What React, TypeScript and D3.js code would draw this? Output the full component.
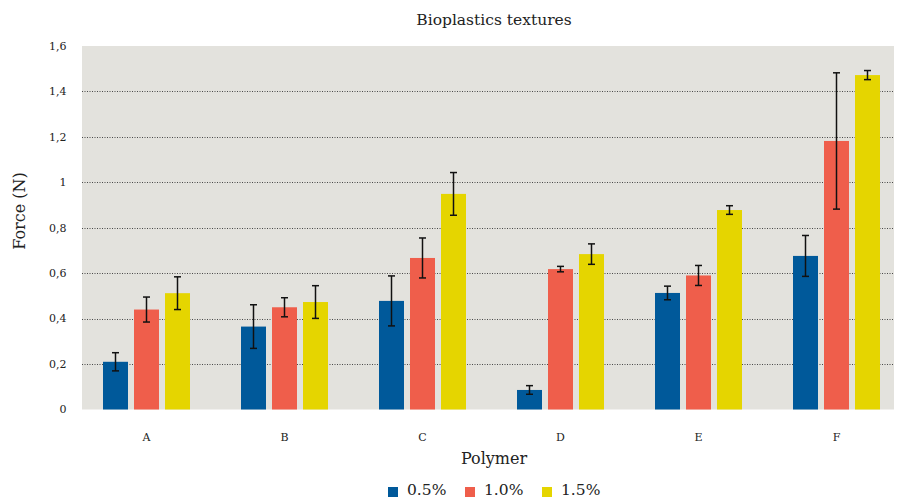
import React, { useEffect, useRef } from "react";
import * as d3 from "d3";

const categories = ["A", "B", "C", "D", "E", "F"];
const seriesNames = ["0.5%", "1.0%", "1.5%"];
const seriesColors = ["#00599a", "#ef5e4b", "#e5d500"];
// mean values per series, one per category
const means = [
  [0.21, 0.365, 0.478, 0.086, 0.513, 0.676],
  [0.44, 0.45, 0.667, 0.618, 0.59, 1.182],
  [0.512, 0.473, 0.949, 0.684, 0.878, 1.472],
];
// error (± half-range)
const errors = [
  [0.04, 0.096, 0.11, 0.019, 0.03, 0.09],
  [0.055, 0.042, 0.088, 0.012, 0.044, 0.3],
  [0.072, 0.072, 0.094, 0.045, 0.019, 0.02],
];
const yTicks = [0, 0.2, 0.4, 0.6, 0.8, 1, 1.2, 1.4, 1.6];

const W = 897;
const H = 499;
const plot = { left: 82, right: 894, top: 46, bottom: 409.5 };
const font = "'DejaVu Serif', serif";

const App = () => {
  const svgRef = useRef(null);

  useEffect(() => {
    const svg = d3.select(svgRef.current);
    svg.selectAll("*").remove();

    const y = d3.scaleLinear().domain([0, 1.6]).range([plot.bottom, plot.top]);
    const x = d3
      .scalePoint()
      .domain(categories)
      .range([plot.left + 64.5, plot.right - 57.5]);
    const barW = 25;
    const inner = d3.scalePoint().domain(seriesNames).range([-31, 31]);

    svg
      .append("rect")
      .attr("x", plot.left)
      .attr("y", plot.top)
      .attr("width", plot.right - plot.left)
      .attr("height", plot.bottom - plot.top)
      .attr("fill", "#e3e2dd");

    // grid
    svg
      .append("g")
      .selectAll("line")
      .data(yTicks.filter((t) => t > 0 && t < 1.6))
      .join("line")
      .attr("x1", plot.left)
      .attr("x2", plot.right)
      .attr("y1", (d) => Math.round(y(d)) + 0.5)
      .attr("y2", (d) => Math.round(y(d)) + 0.5)
      .attr("stroke", "#222")
      .attr("stroke-width", 0.8)
      .attr("stroke-dasharray", "1,1.5");

    // y tick labels
    svg
      .append("g")
      .selectAll("text")
      .data(yTicks)
      .join("text")
      .attr("x", 66.5)
      .attr("y", (d) => y(d))
      .attr("dy", "0.35em")
      .attr("text-anchor", "end")
      .attr("font-family", font)
      .attr("font-size", 11)
      .attr("fill", "#222")
      .text((d) => String(d).replace(".", ","));

    // bars
    seriesNames.forEach((s, si) => {
      const g = svg.append("g");
      g.selectAll("rect")
        .data(categories)
        .join("rect")
        .attr("x", (c) => x(c) + inner(s) - barW / 2)
        .attr("y", (c, i) => y(means[si][i]))
        .attr("width", barW)
        .attr("height", (c, i) => plot.bottom - y(means[si][i]))
        .attr("fill", seriesColors[si]);

      const eb = svg.append("g").attr("stroke", "#111").attr("stroke-width", 1.5);
      categories.forEach((c, i) => {
        const cx = x(c) + inner(s);
        const lo = y(means[si][i] - errors[si][i]);
        const hi = y(means[si][i] + errors[si][i]);
        eb.append("line").attr("x1", cx).attr("x2", cx).attr("y1", lo).attr("y2", hi);
        eb.append("line").attr("x1", cx - 3.5).attr("x2", cx + 3.5).attr("y1", lo).attr("y2", lo);
        eb.append("line").attr("x1", cx - 3.5).attr("x2", cx + 3.5).attr("y1", hi).attr("y2", hi);
      });
    });

    // x labels
    svg
      .append("g")
      .selectAll("text")
      .data(categories)
      .join("text")
      .attr("x", (d) => x(d))
      .attr("y", 437)
      .attr("dy", "0.35em")
      .attr("text-anchor", "middle")
      .attr("font-family", font)
      .attr("font-size", 11)
      .attr("fill", "#222")
      .text((d) => d);

    svg
      .append("text")
      .attr("x", 494)
      .attr("y", 20)
      .attr("dy", "0.35em")
      .attr("text-anchor", "middle")
      .attr("font-family", font)
      .attr("font-size", 15.5)
      .attr("fill", "#222")
      .text("Bioplastics textures");

    svg
      .append("text")
      .attr("x", 494)
      .attr("y", 458)
      .attr("dy", "0.35em")
      .attr("text-anchor", "middle")
      .attr("font-family", font)
      .attr("font-size", 16)
      .attr("fill", "#222")
      .text("Polymer");

    svg
      .append("text")
      .attr("transform", "translate(19,211) rotate(-90)")
      .attr("dy", "0.35em")
      .attr("text-anchor", "middle")
      .attr("font-family", font)
      .attr("font-size", 16)
      .attr("fill", "#222")
      .text("Force (N)");

    // legend
    const legendX = [388, 465, 542];
    const lg = svg.append("g");
    seriesNames.forEach((s, si) => {
      lg.append("rect")
        .attr("x", legendX[si])
        .attr("y", 487)
        .attr("width", 10)
        .attr("height", 10)
        .attr("fill", seriesColors[si]);
      lg.append("text")
        .attr("x", legendX[si] + 19)
        .attr("y", 490)
        .attr("dy", "0.35em")
        .attr("font-family", font)
        .attr("font-size", 15.5)
        .attr("fill", "#222")
        .text(s);
    });
  }, []);

  return (
    <svg
      ref={svgRef}
      width={W}
      height={H}
      style={{ position: "absolute", left: 0, top: 0, background: "#fff" }}
    />
  );
};

export default App;
